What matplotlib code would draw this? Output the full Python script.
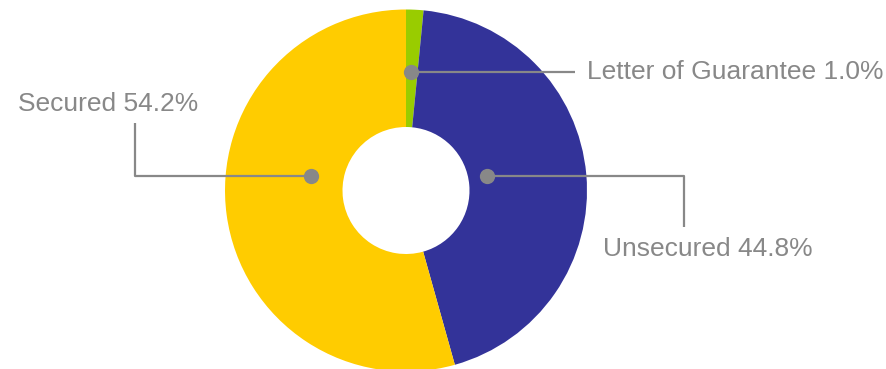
import matplotlib.pyplot as plt

plt.rcParams['font.family'] = ['Liberation Sans', 'DejaVu Sans']

# slices, clockwise from 12 o'clock
labels = ["Letter of Guarantee", "Unsecured", "Secured"]
shares = [1.0, 44.8, 54.2]           # percentages shown in the labels
arc_sizes = [1.55, 44.1, 54.35]      # slice sizes as drawn in the reference
colors = ["#99cc00", "#333399", "#ffcc00"]

W, H = 886, 369
CX, CY = 406, 190.5   # pixel coords (y down)
R_OUT, R_IN = 181, 63.5

GREY = "#888888"


def fy(py):
    # pixel y (down) -> data y (up)
    return H - py


fig = plt.figure(figsize=(W / 100, H / 100), dpi=100)
ax = fig.add_axes([0, 0, 1, 1])

ax.pie(arc_sizes, colors=colors, startangle=90, counterclock=False,
       center=(CX, fy(CY)), radius=R_OUT,
       wedgeprops=dict(width=R_OUT - R_IN, linewidth=0))

ax.set_xlim(0, W)
ax.set_ylim(0, H)
ax.set_aspect('auto')
ax.axis('off')

# leader lines: (dot), (corner or end), text anchor, alignment
leaders = [
    dict(pts=[(411, 72), (575, 72)], text_xy=(587, 72), ha='left', va='center'),
    dict(pts=[(487, 176), (684, 176), (684, 227)], text_xy=(603, 249), ha='left', va='center'),
    dict(pts=[(311, 176), (135, 176), (135, 123)], text_xy=(18, 104), ha='left', va='center'),
]

for lab, pct, ld in zip(labels, shares, leaders):
    xs = [p[0] for p in ld['pts']]
    ys = [fy(p[1]) for p in ld['pts']]
    ax.plot(xs, ys, color=GREY, lw=1.6, solid_capstyle='butt', zorder=3)
    ax.plot(xs[0], ys[0], 'o', ms=11, color=GREY, mec='none', zorder=4)
    tx, ty = ld['text_xy']
    ax.text(tx, fy(ty), f"{lab} {pct:.1f}%", fontsize=19, color=GREY,
            ha=ld['ha'], va=ld['va'])

fig.savefig("out.png", dpi=100)
